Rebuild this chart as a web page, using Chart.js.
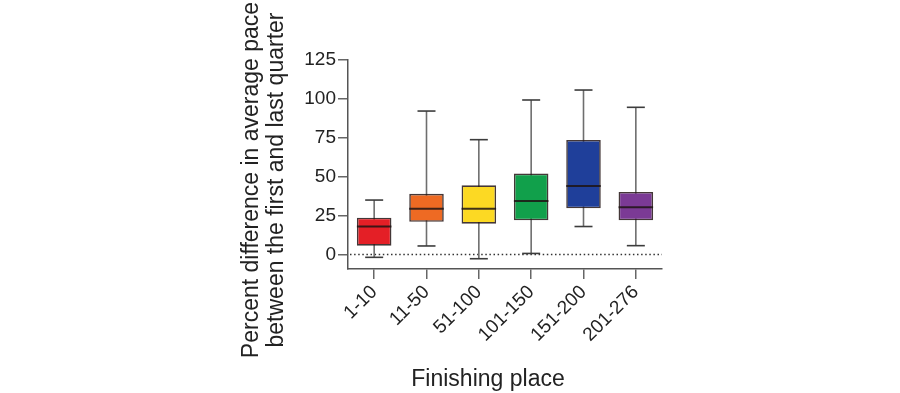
<!DOCTYPE html>
<html>
<head>
<meta charset="utf-8">
<script src="https://cdn.jsdelivr.net/npm/chart.js@4.4.1/dist/chart.umd.min.js"></script>
<style>
  html, body { margin: 0; padding: 0; background: #fff; }
  #chart { display: block; }
</style>
</head>
<body>
<canvas id="chart" width="900" height="393"></canvas>
<script>
const categories = ["1-10", "11-50", "51-100", "101-150", "151-200", "201-276"];
const whiskerLow = [-1.8, 5.5, -2.7, 0.7, 18, 5.7];
const lowerQuartile = [5.7, 21, 19.8, 22, 29.7, 22];
const medians = [18, 29.4, 29.4, 34.4, 44, 30.3];
const upperQuartile = [23.7, 39, 44.5, 52, 73.6, 40.2];
const whiskerHigh = [35, 92.2, 73.8, 99.3, 105.7, 94.6];
const yTicks = [0, 25, 50, 75, 100, 125];
const boxColors = ["#e41f26", "#ee6a23", "#fcd923", "#11a04b", "#1f3f9a", "#7b3a95"];

const FONT = "'Liberation Sans', Arial, Helvetica, sans-serif";
const TEXT = "#222";

// whiskers, zero line, medians and the axis titles
const boxPlotExtras = {
  id: "boxPlotExtras",
  beforeDatasetsDraw(chart) {
    const { ctx, chartArea, scales: { x, y } } = chart;
    ctx.save();
    // dotted zero line
    ctx.strokeStyle = "#333";
    ctx.lineWidth = 1.4;
    ctx.setLineDash([1.5, 2.6]);
    ctx.beginPath();
    ctx.moveTo(chartArea.left + 2, y.getPixelForValue(0));
    ctx.lineTo(chartArea.right, y.getPixelForValue(0));
    ctx.stroke();
    ctx.setLineDash([]);

    categories.forEach((c, i) => {
      const cx = x.getPixelForValue(i);
      // whisker stem
      ctx.strokeStyle = "#6e6e6e";
      ctx.lineWidth = 1.6;
      ctx.beginPath();
      ctx.moveTo(cx, y.getPixelForValue(whiskerLow[i]));
      ctx.lineTo(cx, y.getPixelForValue(whiskerHigh[i]));
      ctx.stroke();
      // caps
      ctx.strokeStyle = "#3c3c3c";
      [whiskerLow[i], whiskerHigh[i]].forEach((v) => {
        const py = y.getPixelForValue(v);
        ctx.beginPath();
        ctx.moveTo(cx - 9, py);
        ctx.lineTo(cx + 9, py);
        ctx.stroke();
      });
    });
    ctx.restore();
  },
  afterDatasetsDraw(chart) {
    const { ctx, scales: { y } } = chart;
    const meta = chart.getDatasetMeta(0);
    ctx.save();
    ctx.strokeStyle = "rgba(30,20,20,0.85)";
    ctx.lineWidth = 2;
    categories.forEach((c, i) => {
      const bar = meta.data[i];
      const half = bar.width / 2;
      const py = y.getPixelForValue(medians[i]);
      ctx.beginPath();
      ctx.moveTo(bar.x - half, py);
      ctx.lineTo(bar.x + half, py);
      ctx.stroke();
    });
    ctx.restore();
  },
  afterDraw(chart) {
    const { ctx } = chart;
    ctx.save();
    ctx.fillStyle = TEXT;
    ctx.font = "23px " + FONT;
    ctx.textAlign = "center";
    ctx.textBaseline = "middle";
    ctx.fillText("Finishing place", 488, 380);

    ctx.translate(252, 180);
    ctx.rotate(-Math.PI / 2);
    ctx.fillText("Percent difference in average pace", 0, 0);
    ctx.fillText("between the first and last quarter", 0, 25);
    ctx.restore();
  },
};

new Chart(document.getElementById("chart"), {
  type: "bar",
  data: {
    labels: categories,
    datasets: [
      {
        data: lowerQuartile.map((q, i) => [q, upperQuartile[i]]),
        backgroundColor: boxColors,
        borderColor: "rgba(35,20,20,0.85)",
        borderWidth: 1.6,
        borderSkipped: false,
        barPercentage: 0.66,
        categoryPercentage: 1,
      },
    ],
  },
  options: {
    responsive: false,
    animation: false,
    layout: { padding: { left: 0, right: 238, top: 60, bottom: 0 } },
    plugins: {
      legend: { display: false },
      tooltip: { enabled: false },
    },
    scales: {
      x: {
        offset: true,
        grid: {
          offset: false,
          drawOnChartArea: false,
          drawTicks: true,
          tickLength: 10,
          color: "#666",
          lineWidth: 1.5,
        },
        border: { display: true, color: "#555", width: 1.5 },
        ticks: {
          minRotation: 45,
          maxRotation: 45,
          padding: 2,
          color: TEXT,
          font: { family: FONT, size: 19 },
        },
        afterFit(scale) {
          scale.height = 124;
        },
      },
      y: {
        min: -9.3,
        max: 125,
        grid: {
          drawOnChartArea: false,
          drawTicks: true,
          tickLength: 10,
          color: "#666",
          lineWidth: 1.5,
        },
        border: { display: true, color: "#555", width: 1.5 },
        ticks: {
          padding: 2,
          color: TEXT,
          font: { family: FONT, size: 19 },
        },
        afterBuildTicks(scale) {
          scale.ticks = yTicks.map((v) => ({ value: v }));
        },
        afterFit(scale) {
          scale.width = 348;
        },
      },
    },
  },
  plugins: [boxPlotExtras],
});
</script>
</body>
</html>
